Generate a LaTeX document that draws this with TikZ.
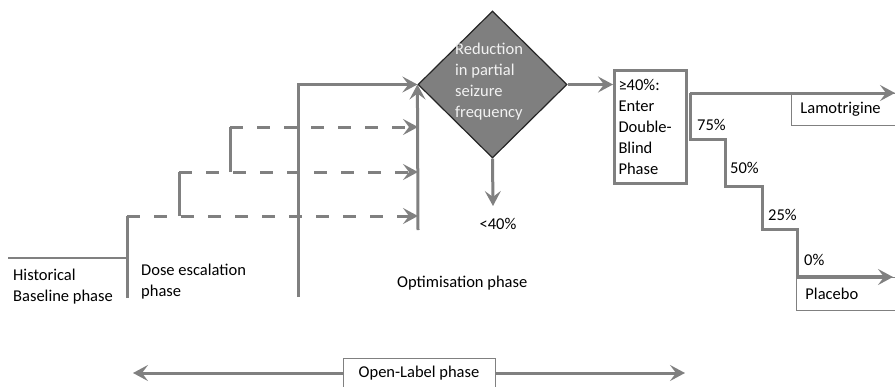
\documentclass[tikz,border=0pt]{standalone}
\usepackage{fontspec}
\setmainfont{Carlito}
\usetikzlibrary{arrows.meta,shapes.geometric}
\definecolor{linegray}{HTML}{808080}
\definecolor{fillgray}{HTML}{7F7F7F}
\definecolor{paletext}{HTML}{F2F2F2}

\begin{document}
\begin{tikzpicture}[x=1pt,y=-1pt,
  flow/.style={draw=linegray, line width=3pt},
  tip/.style={-{Stealth[length=15pt,width=16pt,inset=6pt]}},
  dashflow/.style={flow, dash pattern=on 13pt off 14pt},
  lbl/.style={font=\fontsize{16.5}{21}\selectfont, inner sep=0pt, align=left},
  thinbox/.style={draw=linegray, line width=0.9pt, fill=white,
    font=\fontsize{16.5}{21}\selectfont},
]
\useasboundingbox (0,0) rectangle (895,386);

% ---- corner points of the escalation staircase ----
\coordinate (base)    at (8,258);
\coordinate (escA)    at (127,298);
\coordinate (escAtop) at (127,216);
\coordinate (escB)    at (179,216);
\coordinate (escBtop) at (179,172);
\coordinate (escC)    at (230,172);
\coordinate (escCtop) at (230,127);
\coordinate (optA)    at (298,297);
\coordinate (optB)    at (418,230);
\coordinate (in1)     at (418,127);
\coordinate (in2)     at (418,172);
\coordinate (in3)     at (418,216);
\coordinate (fail)    at (493,206);

% ---- decision diamond ----
\node[diamond, draw=black!85, line width=1.2pt, fill=fillgray,
      minimum width=149pt, minimum height=147pt, inner sep=0pt] (dia) at (492.5,84.5) {};
\node[lbl, text=paletext, anchor=north west] (diatxt) at (455,43)
  {Reduction\\in partial\\seizure\\frequency};

% ---- escalation lines ----
\draw[flow, line width=2.2pt] (base) -- (base -| escA);
\draw[flow] (escA) -- (escAtop);
\draw[dashflow, tip] (escAtop) -- (in3);
\draw[flow] (escB) -- (escBtop);
\draw[dashflow, tip] (escBtop) -- (in2);
\draw[flow] (escC) -- (escCtop);
\draw[dashflow, tip] (escCtop) -- (in1);
\draw[flow, tip] (optA) |- (dia.west);
\draw[flow, tip] (optB) -- (dia.west);
\draw[flow, tip] (dia.south) -- (fail);

% ---- double-blind entry ----
\node[draw=linegray, line width=3pt, minimum width=72pt, minimum height=113pt,
      lbl, text width=64pt] (dbl) at (650.5,127)
  {≥40\%:\\Enter\\Double-\\Blind\\Phase};
\draw[flow, tip] (dia.east) -- (dia.east -| dbl.west);

% ---- taper staircase ----
\coordinate (s0)     at (690,93);
\coordinate (lamEnd) at (895,93);
\coordinate (st1)    at (725,139);
\coordinate (st2)    at (762,186);
\coordinate (st3)    at (797,229);
\coordinate (st4)    at (797,277);
\coordinate (plcEnd) at (893,277);

\node[thinbox, anchor=north west, text width=92pt, inner xsep=9pt, align=left,
      minimum height=32pt] (lam) at (791,93) {Lamotrigine};
\node[thinbox, anchor=north west, text width=92pt, inner xsep=9pt, align=left,
      minimum height=33pt] (plc) at (796,277) {Placebo};

\draw[flow, tip] (s0) -- (lamEnd);
\draw[flow] (s0) |- (st1) |- (st2) |- (st3) -- (st4);
\draw[flow, line width=4.5pt, tip] (st4) -- (plcEnd);

\node[lbl, anchor=west] (p75) at (697,125) {75\%};
\node[lbl, anchor=west] (p50) at (730,168) {50\%};
\node[lbl, anchor=west] (p25) at (768,215) {25\%};
\node[lbl, anchor=west] (p0)  at (804,260) {0\%};

% ---- phase labels ----
\node[lbl, anchor=west] (hist) at (13,287) {Historical\\Baseline phase};
\node[lbl, anchor=west] (dose) at (141,281.5) {Dose escalation\\phase};
\node[lbl, anchor=west] (opt)  at (397,283) {Optimisation phase};
\node[lbl] (lt40) at (498,224) {<40\%};

% ---- open-label span ----
\coordinate (olL) at (133,373);
\coordinate (olR) at (685,373);
\node[thinbox, minimum width=152pt, minimum height=30pt] (ol) at (419,373)
  {Open-Label phase};
\draw[flow, tip] (ol.west) -- (olL);
\draw[flow, tip] (ol.east) -- (olR);
\end{tikzpicture}
\end{document}
